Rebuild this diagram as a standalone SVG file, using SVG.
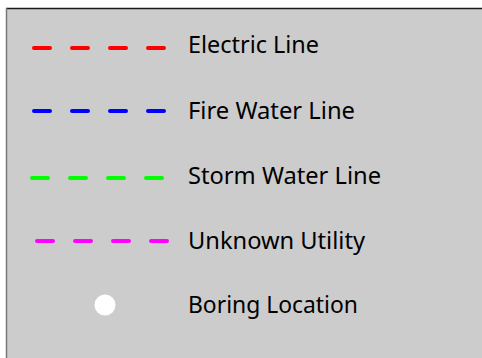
<svg xmlns="http://www.w3.org/2000/svg" width="482" height="358" viewBox="0 0 482 358">
<style>
.lbl{font-family:"Noto Sans","Liberation Sans",sans-serif;font-size:24px;fill:#000}
.dash{stroke-width:4;stroke-linecap:round;stroke-dasharray:16 22;fill:none}
</style>
<rect x="6.5" y="8.5" width="490" height="360" fill="#cccccc"/>
<line x1="6" y1="8.5" x2="482" y2="8.5" stroke="#1a1a1a" stroke-width="1.5"/>
<line x1="6.5" y1="8" x2="6.5" y2="358" stroke="#777777" stroke-width="1.5"/>
<g id="connectors">
<line class="dash" x1="34" y1="48" x2="166" y2="48" stroke="#ff0000"/>
<line class="dash" x1="34" y1="111" x2="166" y2="111" stroke="#0000ff"/>
<line class="dash" x1="32" y1="178" x2="164" y2="178" stroke="#00ff00"/>
<line class="dash" x1="37" y1="241" x2="169" y2="241" stroke="#ff00ff"/>
</g>
<g id="electric"><text class="lbl" x="188" y="53" textLength="131" lengthAdjust="spacingAndGlyphs">Electric Line</text></g>
<g id="firewater"><text class="lbl" x="188" y="119" textLength="167" lengthAdjust="spacingAndGlyphs">Fire Water Line</text></g>
<g id="stormwater"><text class="lbl" x="188" y="184" textLength="193" lengthAdjust="spacingAndGlyphs">Storm Water Line</text></g>
<g id="unknown"><text class="lbl" x="188" y="249" textLength="177" lengthAdjust="spacingAndGlyphs">Unknown Utility</text></g>
<g id="boring"><circle cx="105" cy="305" r="10.5" fill="#ffffff"/><text class="lbl" x="188" y="313" textLength="170" lengthAdjust="spacingAndGlyphs">Boring Location</text></g>
</svg>
